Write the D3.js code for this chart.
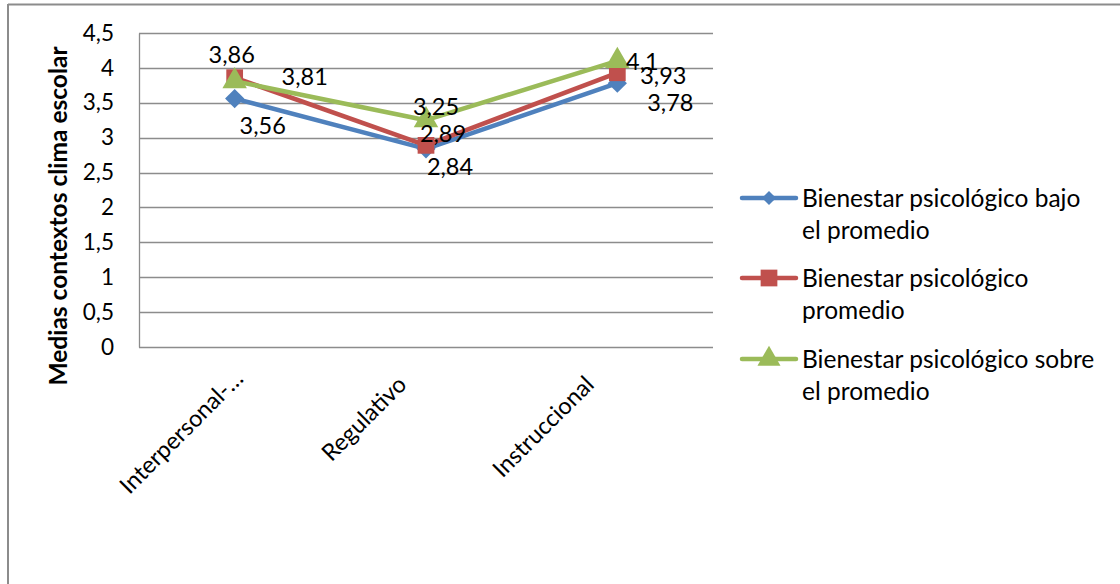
<!DOCTYPE html>
<html>
<head>
<meta charset="utf-8">
<script src="https://cdnjs.cloudflare.com/ajax/libs/d3/7.8.5/d3.min.js"></script>
<style>
  html, body { margin: 0; padding: 0; background: #fff; }
  svg { display: block; font-family: Lato, "Liberation Sans", sans-serif; }
</style>
</head>
<body>
<svg id="chart" width="1120" height="584"></svg>
<script>
// Context categories of school climate
const categories = ["Interpersonal-afectivo", "Regulativo", "Instruccional"];
const categoryLabels = ["Interpersonal-…", "Regulativo", "Instruccional"];

// Mean scores by psychological well-being group
const seriesNames = [
  "Bienestar psicológico bajo el promedio",
  "Bienestar psicológico promedio",
  "Bienestar psicológico sobre el promedio"
];
const bajoPromedio = [3.56, 2.84, 3.78];
const promedio = [3.86, 2.89, 3.93];
const sobrePromedio = [3.81, 3.25, 4.1];

const yTicks = [0, 0.5, 1, 1.5, 2, 2.5, 3, 3.5, 4, 4.5];

// ---- layout & style ----
const W = 1120, H = 584;
const plot = { left: 139, right: 713, top: 33, bottom: 347 };
const colors = ["#4F81BD", "#C0504D", "#9BBB59"];
// label nudges (dx, dy) from each point, per series
const labelOffsets = [
  [[28, 27], [24, 18], [53, 20]],
  [[-3, -23], [17, -12], [46, 3]],
  [[70, -4], [10, -13], [25, 1]]
];
// rotated category label nudges (dx, dy)
const catLabelShift = [[10, 0], [-18, 6], [-22, 6]];

const svg = d3.select("#chart");
const fmt = v => String(v).replace(".", ",");

// marker shapes: diamond is a square turned 45 degrees
function markerPath(s, size) {
  return d3.symbol().type(s === 2 ? d3.symbolTriangle : d3.symbolSquare).size(size)();
}
const markerRot = [45, 0, 0];

// chart frame (top and left edges)
svg.append("line").attr("x1", 8).attr("x2", W).attr("y1", 4.5).attr("y2", 4.5)
  .attr("stroke", "#8c8c8c").attr("stroke-width", 2);
svg.append("line").attr("x1", 8).attr("x2", 8).attr("y1", 4).attr("y2", H)
  .attr("stroke", "#8c8c8c").attr("stroke-width", 2);

const x = d3.scaleBand().domain(categories).range([plot.left, plot.right]);
const y = d3.scaleLinear().domain([0, 4.5]).range([plot.bottom, plot.top]);

// gridlines
svg.append("g").selectAll("line").data(yTicks.filter(t => t > 0)).join("line")
  .attr("x1", plot.left).attr("x2", plot.right)
  .attr("y1", d => Math.round(y(d)) + 0.5).attr("y2", d => Math.round(y(d)) + 0.5)
  .attr("stroke", "#8c8c8c").attr("stroke-width", 1.3);

// y axis
const yAxis = svg.append("g")
  .attr("transform", `translate(${plot.left},0)`)
  .call(d3.axisLeft(y).tickValues(yTicks).tickFormat(fmt).tickSize(0).tickPadding(25));
yAxis.select(".domain").attr("stroke", "#8c8c8c").attr("stroke-width", 1.3);
yAxis.selectAll("text").attr("font-size", 22.5).attr("fill", "#000")
  .attr("font-family", "Lato");

// bottom axis line
svg.append("line").attr("x1", plot.left).attr("x2", plot.right)
  .attr("y1", plot.bottom + 0.5).attr("y2", plot.bottom + 0.5)
  .attr("stroke", "#8c8c8c").attr("stroke-width", 1.3);

// category labels, rotated
svg.append("g").selectAll("text").data(categories).join("text")
  .attr("transform", (d, i) => {
    const cx = x(d) + x.bandwidth() / 2 + catLabelShift[i][0];
    return `translate(${cx},${plot.bottom + 33 + catLabelShift[i][1]}) rotate(-45)`;
  })
  .attr("text-anchor", "end")
  .attr("font-size", 23.5)
  .attr("fill", "#000")
  .text((d, i) => categoryLabels[i]);

// y axis title
svg.append("text")
  .attr("transform", `translate(67,216) rotate(-90)`)
  .attr("text-anchor", "middle")
  .attr("font-size", 24.5).attr("font-weight", "bold").attr("fill", "#000")
  .text("Medias contextos clima escolar");

// series
const allSeries = [bajoPromedio, promedio, sobrePromedio];
const cxOf = i => x(categories[i]) + x.bandwidth() / 2;
const line = d3.line().x((d, i) => cxOf(i)).y(d => y(d));
const symbolSizes = [185, 280, 260];

allSeries.forEach((vals, s) => {
  const g = svg.append("g");
  g.append("path").datum(vals).attr("d", line)
    .attr("fill", "none").attr("stroke", colors[s]).attr("stroke-width", 4.5)
    .attr("stroke-linejoin", "round");
  g.selectAll("path.m").data(vals).join("path").attr("class", "m")
    .attr("transform", (d, i) => `translate(${cxOf(i)},${y(d)}) rotate(${markerRot[s]})`)
    .attr("d", markerPath(s, symbolSizes[s]))
    .attr("fill", colors[s]);
});

// data labels
allSeries.forEach((vals, s) => {
  svg.append("g").selectAll("text").data(vals).join("text")
    .attr("x", (d, i) => cxOf(i) + labelOffsets[s][i][0])
    .attr("y", (d, i) => y(d) + labelOffsets[s][i][1])
    .attr("dy", "0.35em")
    .attr("text-anchor", "middle")
    .attr("font-size", 23.5).attr("fill", "#000")
    .text(d => fmt(d));
});

// legend
const legendLines = [
  ["Bienestar psicológico bajo", "el promedio"],
  ["Bienestar psicológico", "promedio"],
  ["Bienestar psicológico sobre", "el promedio"]
];
const legendRowY = [198, 278, 359];
const lg = svg.append("g");
seriesNames.forEach((name, s) => {
  const ly = legendRowY[s];
  lg.append("line").attr("x1", 742).attr("x2", 796).attr("y1", ly).attr("y2", ly)
    .attr("stroke", colors[s]).attr("stroke-width", 4.5).attr("stroke-linecap", "round");
  lg.append("path").attr("transform", `translate(769,${ly}) rotate(${markerRot[s]})`)
    .attr("d", markerPath(s, [100, 280, 230][s]))
    .attr("fill", colors[s]);
  const t = lg.append("text").attr("x", 802).attr("y", ly).attr("font-size", 24.5).attr("fill", "#000");
  legendLines[s].forEach((ln, k) => {
    t.append("tspan").attr("x", 802).attr("y", ly + k * 32).attr("dy", "0.35em").text(ln);
  });
});
</script>
</body>
</html>
